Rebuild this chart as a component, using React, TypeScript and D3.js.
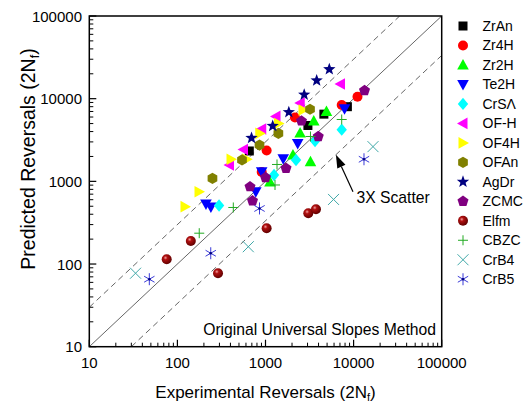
import React from 'react';
import * as d3 from 'd3';

const W = 531, H = 404;
const PX0 = 89.3, PX1 = 441.7, PY0 = 346.7, PY1 = 16;

const tickValues = [10, 100, 1000, 10000, 100000];
const tickLabels = ['10', '100', '1000', '10000', '100000'];

const legendNames = ['ZrAn', 'Zr4H', 'Zr2H', 'Te2H', 'CrSΛ', 'OF-H', 'OF4H', 'OFAn', 'AgDr', 'ZCMC', 'Elfm', 'CBZC', 'CrB4', 'CrB5'];

const zrAn = [[4600, 6500], [3030, 4740], [8500, 8000], [655, 2330]];
const zr4H = [[1030, 2360], [905, 1300], [2160, 5920], [7330, 8390], [11070, 10570]];
const zr2H = [[4920, 7000], [3530, 5380], [2470, 3850], [3240, 1730], [1125, 985], [2050, 2085]];
const te2H = [[7890, 7570], [2320, 2860], [1590, 1880], [905, 1310], [776, 750], [211, 533], [240, 490]];
const crSA = [[7330, 4220], [3650, 3080], [2220, 1815], [1250, 1195], [297, 511]];
const ofH = [[7100, 15060], [2480, 8870], [1316, 6100], [906, 4300], [563, 2430], [390, 1580]];
const of4H = [[2665, 7300], [1405, 5010], [860, 3800], [612, 1850], [406, 1850], [176, 750], [122, 494]];
const ofAn = [[3200, 7450], [1400, 3800], [855, 2750], [541, 1815], [250, 1085]];
const agDr = [[5300, 22660], [3810, 16600], [2750, 11180], [1840, 6870], [1207, 4680], [694, 3350]];
const zcmc = [[13300, 12500], [2560, 5380], [3970, 3490], [1710, 1440], [1000, 1115], [667, 862], [712, 580]];
const elfm = [[75.6, 114], [142, 190], [289, 77.4], [1030, 271], [3060, 411], [3740, 460]];
const cbzc = [[177, 236], [431, 483], [1282, 904], [1351, 1600], [3240, 3490], [7330, 5600]];
const crB4 = [[33.5, 77.4], [638, 162], [5920, 604], [16600, 2630]];
const crB5 = [[48, 65.5], [239, 135], [855, 470], [13120, 1850]];

const seriesData = [zrAn, zr4H, zr2H, te2H, crSA, ofH, of4H, ofAn, agDr, zcmc, elfm, cbzc, crB4, crB5];
const symbolTypes = ['square', 'circle', 'triUp', 'triDown', 'diamond', 'triLeft', 'triRight', 'hexagon', 'star', 'pentagon', 'sphere', 'plus', 'cross', 'asterisk'];
const colors = ['#000000', '#ff0000', '#00ff00', '#0000ff', '#00ffff', '#ff00ff', '#ffff00', '#808000', '#000080', '#800080', '#8b0000', '#22aa22', '#40a8a8', '#3a3ad8'];

const arrowTip = [6300, 2100];
const arrowTail = [9840, 750];

function polyPath(n: number, r: number, rot: number) {
  const pts: string[] = [];
  for (let i = 0; i < n; i++) {
    const a = rot + (i * 2 * Math.PI) / n;
    pts.push(`${(r * Math.cos(a)).toFixed(2)},${(r * Math.sin(a)).toFixed(2)}`);
  }
  return 'M' + pts.join('L') + 'Z';
}

function starPath(ro: number, ri: number) {
  const pts: string[] = [];
  for (let i = 0; i < 10; i++) {
    const r = i % 2 === 0 ? ro : ri;
    const a = -Math.PI / 2 + (i * Math.PI) / 5;
    pts.push(`${(r * Math.cos(a)).toFixed(2)},${(r * Math.sin(a)).toFixed(2)}`);
  }
  return 'M' + pts.join('L') + 'Z';
}

function Marker({ type, color, x, y }: { type: string; color: string; x: number; y: number }) {
  const t = `translate(${x},${y})`;
  switch (type) {
    case 'square':
      return <rect transform={t} x={-4.5} y={-4.5} width={9} height={9} fill={color} />;
    case 'circle':
      return <circle transform={t} r={5} fill={color} />;
    case 'triUp':
      return <path transform={t} d="M0,-6L5.8,4.5L-5.8,4.5Z" fill={color} />;
    case 'triDown':
      return <path transform={t} d="M0,6L5.8,-4.5L-5.8,-4.5Z" fill={color} />;
    case 'diamond':
      return <path transform={t} d="M0,-6.2L5.2,0L0,6.2L-5.2,0Z" fill={color} />;
    case 'triLeft':
      return <path transform={t} d="M-6,0L4.5,-5.8L4.5,5.8Z" fill={color} />;
    case 'triRight':
      return <path transform={t} d="M6,0L-4.5,-5.8L-4.5,5.8Z" fill={color} />;
    case 'hexagon':
      return <path transform={t} d={polyPath(6, 5.6, -Math.PI / 2)} fill={color} />;
    case 'star':
      return <path transform={t} d={starPath(6.5, 2.7)} fill={color} />;
    case 'pentagon':
      return <path transform={t} d={polyPath(5, 5.8, -Math.PI / 2)} fill={color} />;
    case 'sphere':
      return <circle transform={t} r={5} fill="url(#sphereGrad)" />;
    case 'plus':
      return <path transform={t} d="M-5,0H5M0,-5V5" stroke={color} strokeWidth={1} fill="none" />;
    case 'cross':
      return <path transform={t} d="M-5.5,-5.5L5.5,5.5M-5.5,5.5L5.5,-5.5" stroke={color} strokeWidth={1} fill="none" />;
    case 'asterisk':
      return (
        <g transform={t}>
          <path d="M0,-6V6M-5.2,-3L5.2,3M-5.2,3L5.2,-3" stroke={color} strokeWidth={1} fill="none" />
          <circle r={1.3} fill="#000080" />
        </g>
      );
    default:
      return null;
  }
}

export default function App() {
  const x = d3.scaleLog().domain([10, 100000]).range([PX0, PX1]);
  const y = d3.scaleLog().domain([10, 100000]).range([PY0, PY1]);

  const majors = tickValues;
  const minors: number[] = [];
  for (let d = 10; d < 100000; d *= 10) for (let k = 2; k <= 9; k++) minors.push(d * k);

  const font = 'Arial, "Liberation Sans", Helvetica, sans-serif';
  const lineColor = '#666';

  const tip = [x(arrowTip[0]), y(arrowTip[1])];
  const tail = [x(arrowTail[0]), y(arrowTail[1])];
  const ang = Math.atan2(tip[1] - tail[1], tip[0] - tail[0]);
  const aL = 13, aW = 4.5;
  const bx = tip[0] - aL * Math.cos(ang), by = tip[1] - aL * Math.sin(ang);
  const head = `M${tip[0]},${tip[1]}L${bx + aW * Math.sin(ang)},${by - aW * Math.cos(ang)}L${bx - aW * Math.sin(ang)},${by + aW * Math.cos(ang)}Z`;

  const legendY0 = 26, legendStep = 19.48, legendMX = 463, legendTX = 482.5;

  return (
    <svg width={W} height={H} style={{ position: 'absolute', left: 0, top: 0, background: '#fff' }} fontFamily={font}>
      <defs>
        <radialGradient id="sphereGrad" cx="0.38" cy="0.35" r="0.65">
          <stop offset="0" stopColor="#f2a0a0" />
          <stop offset="0.3" stopColor="#b01010" />
          <stop offset="1" stopColor="#600000" />
        </radialGradient>
        <clipPath id="plotClip">
          <rect x={PX0} y={PY1} width={PX1 - PX0} height={PY0 - PY1} />
        </clipPath>
      </defs>
      <rect width={W} height={H} fill="#fff" />
      <g clipPath="url(#plotClip)">
        <line x1={x(10)} y1={y(10)} x2={x(100000)} y2={y(100000)} stroke={lineColor} strokeWidth={1} />
        <line x1={x(10)} y1={y(30)} x2={x(100000 / 3)} y2={y(100000)} stroke={lineColor} strokeWidth={1} strokeDasharray="6,4" />
        <line x1={x(30)} y1={y(10)} x2={x(100000)} y2={y(100000 / 3)} stroke={lineColor} strokeWidth={1} strokeDasharray="6,4" />
      </g>
      {seriesData.map((s, i) => (
        <g key={i}>
          {s.map((p, j) => (
            <Marker key={j} type={symbolTypes[i]} color={colors[i]} x={x(p[0])} y={y(p[1])} />
          ))}
        </g>
      ))}
      <line x1={tail[0]} y1={tail[1]} x2={bx} y2={by} stroke="#000" strokeWidth={1.2} />
      <path d={head} fill="#000" />
      <text x={356.5} y={203} fontSize={15.7} fill="#000">3X Scatter</text>
      <text x={436} y={335} fontSize={15.7} fill="#000" textAnchor="end">Original Universal Slopes Method</text>

      <rect x={PX0} y={PY1} width={PX1 - PX0} height={PY0 - PY1} fill="none" stroke="#000" strokeWidth={1.5} />
      {majors.map((v) => (
        <g key={'mx' + v}>
          <line x1={x(v)} x2={x(v)} y1={PY0} y2={PY0 - 7} stroke="#000" strokeWidth={1.2} />
          <line y1={y(v)} y2={y(v)} x1={PX0} x2={PX0 + 7} stroke="#000" strokeWidth={1.2} />
        </g>
      ))}
      {minors.map((v) => (
        <g key={'mn' + v}>
          <line x1={x(v)} x2={x(v)} y1={PY0} y2={PY0 - 4} stroke="#000" strokeWidth={1} />
          <line y1={y(v)} y2={y(v)} x1={PX0} x2={PX0 + 4} stroke="#000" strokeWidth={1} />
        </g>
      ))}
      {majors.map((v, i) => (
        <text key={'xl' + v} x={x(v)} y={368.3} fontSize={15} textAnchor="middle" fill="#000">{tickLabels[i]}</text>
      ))}
      {majors.map((v, i) => (
        <text key={'yl' + v} x={82} y={y(v) + 5.5} fontSize={15} textAnchor="end" fill="#000">{tickLabels[i]}</text>
      ))}
      <text x={(PX0 + PX1) / 2} y={398} fontSize={17} textAnchor="middle" fill="#000">
        Experimental Reversals (2N<tspan fontSize={11} dy={3}>f</tspan><tspan dy={-3}>)</tspan>
      </text>
      <text transform={`translate(35,159) rotate(-90)`} fontSize={19.5} textAnchor="middle" fill="#000">
        Predicted Reversals (2N<tspan fontSize={12.5} dy={3.5}>f</tspan><tspan dy={-3.5}>)</tspan>
      </text>

      {legendNames.map((n, i) => (
        <g key={'lg' + i}>
          <Marker type={symbolTypes[i]} color={colors[i]} x={legendMX} y={legendY0 + i * legendStep} />
          <text x={legendTX} y={legendY0 + i * legendStep + 5} fontSize={14} fill="#000">{n}</text>
        </g>
      ))}
    </svg>
  );
}
